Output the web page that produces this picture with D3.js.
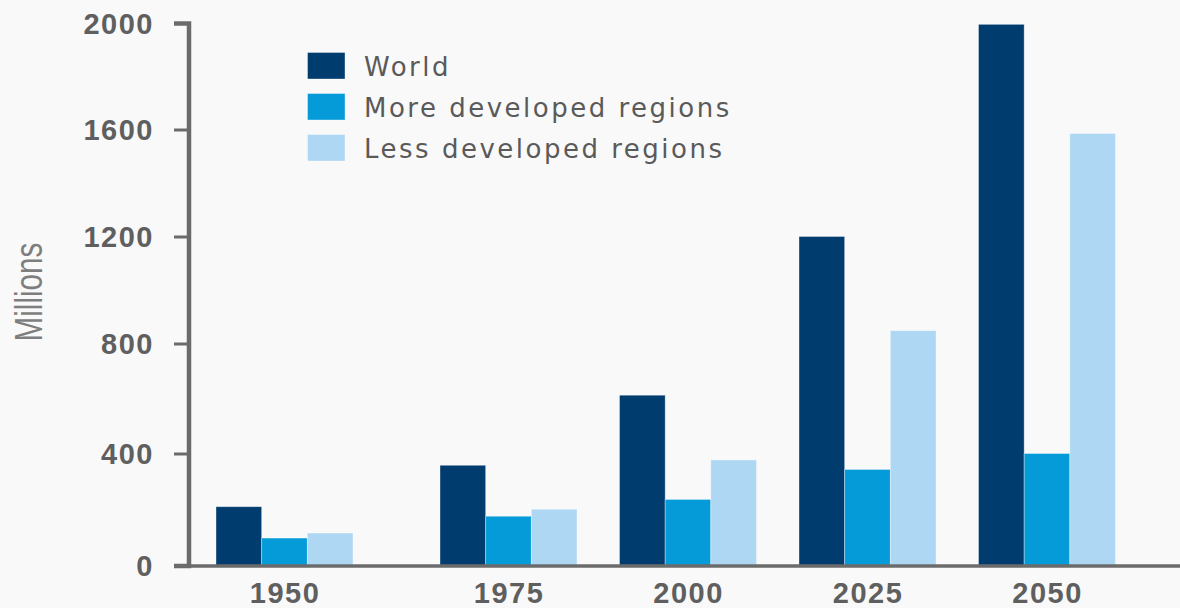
<!DOCTYPE html>
<html>
<head>
<meta charset="utf-8">
<script src="https://cdn.jsdelivr.net/npm/d3@7"></script>
<style>
  html, body { margin: 0; padding: 0; background: #f9f9f9; }
  svg { display: block; }
</style>
</head>
<body>
<script>
// ---- Data ----
const years = [1950, 1975, 2000, 2025, 2050];
const seriesNames = ["World", "More developed regions", "Less developed regions"];
const worldValues = [210, 358, 612, 1200, 1995];
const moreDevelopedValues = [98, 176, 236, 343, 400];
const lessDevelopedValues = [116, 201, 377, 848, 1585];
const yTickValues = [0, 400, 800, 1200, 1600, 2000];
const seriesColors = ["#003d6e", "#049bd8", "#add7f2"];

// ---- Layout ----
const W = 1180, H = 608;
const axisX = 188.5;
const y0 = 565.5;

const svg = d3.select("body").append("svg")
  .attr("width", W).attr("height", H);

svg.append("rect").attr("width", W).attr("height", H).attr("fill", "#f9f9f9");

// vertical scale following the reference's tick spacing
const y = d3.scaleLinear().domain(yTickValues)
  .range([y0, 453.5, 343.5, 236.5, 129.5, 23]);

// group centres (first interval is wider in the original)
const x = d3.scaleLinear()
  .domain([1950, 1975, 2050])
  .range([284.5, 508.5, 1047]);

const sub = d3.scaleBand().domain(seriesNames).range([-68.5, 68.5]).padding(0);
const color = d3.scaleOrdinal().domain(seriesNames).range(seriesColors);

const seriesValues = [worldValues, moreDevelopedValues, lessDevelopedValues];
const rows = [];
years.forEach((yr, i) => {
  seriesNames.forEach((s, j) => rows.push({ year: yr, series: s, value: seriesValues[j][i] }));
});

// bars
svg.append("g").selectAll("rect").data(rows).join("rect")
  .attr("x", d => x(d.year) + sub(d.series))
  .attr("y", d => y(d.value))
  .attr("width", sub.bandwidth())
  .attr("height", d => y(0) - y(d.value))
  .attr("fill", d => color(d.series))
  .attr("stroke", "rgba(255,255,255,0.45)")
  .attr("stroke-width", 0.8);

// x axis baseline
svg.append("line")
  .attr("x1", 174).attr("x2", W)
  .attr("y1", y0 + 0.5).attr("y2", y0 + 0.5)
  .attr("stroke", "#6b6b6b").attr("stroke-width", 3.5);

// x axis labels
const xAxis = d3.axisBottom(x).tickValues(years).tickFormat(d3.format("d")).tickSize(0).tickPadding(0);
const gx = svg.append("g").attr("transform", `translate(0,${y0})`).call(xAxis);
gx.select(".domain").remove();
gx.selectAll("text")
  .attr("dy", null).attr("y", 37)
  .attr("fill", "#5f5f5f")
  .style("font-family", "'Liberation Sans', Arial, sans-serif")
  .style("font-weight", "700")
  .style("font-size", "29px")
  .style("letter-spacing", "1.5px");

// y axis
const yAxis = d3.axisLeft(y).tickValues(yTickValues).tickFormat(d3.format("d"))
  .tickSize(14.5).tickSizeOuter(14.5).tickPadding(20);
const gy = svg.append("g").attr("transform", `translate(${axisX},0)`).call(yAxis);
gy.select(".domain").attr("stroke", "#6b6b6b").attr("stroke-width", 4.5).attr("fill", "none");
gy.selectAll(".tick line").attr("stroke", "#6b6b6b").attr("stroke-width", 3);
gy.selectAll("text")
  .attr("fill", "#5f5f5f")
  .attr("dy", "0.36em")
  .style("font-family", "'Liberation Sans', Arial, sans-serif")
  .style("font-weight", "700")
  .style("font-size", "29px")
  .style("letter-spacing", "1.5px");

// y axis title
svg.append("text")
  .attr("transform", "translate(42,292) rotate(-90) scale(0.78,1)")
  .attr("text-anchor", "middle")
  .attr("fill", "#7e7e7e")
  .style("font-family", "'Liberation Sans', Arial, sans-serif")
  .style("font-size", "38px")
  .text("Millions");

// legend
const legend = svg.append("g").attr("transform", "translate(307.5,52.5)");
const li = legend.selectAll("g").data(seriesNames).join("g")
  .attr("transform", (d, i) => `translate(0,${i * 41})`);
li.append("rect")
  .attr("width", 37.5).attr("height", 26.5)
  .attr("fill", d => color(d))
  .attr("stroke", "rgba(255,255,255,0.45)").attr("stroke-width", 0.8);
li.append("text")
  .attr("x", 56.5).attr("y", 23.5)
  .attr("fill", "#5a5a5a")
  .style("font-family", "'DejaVu Sans', sans-serif")
  .style("font-size", "26px")
  .style("letter-spacing", "2.5px")
  .text(d => d);
</script>
</body>
</html>
